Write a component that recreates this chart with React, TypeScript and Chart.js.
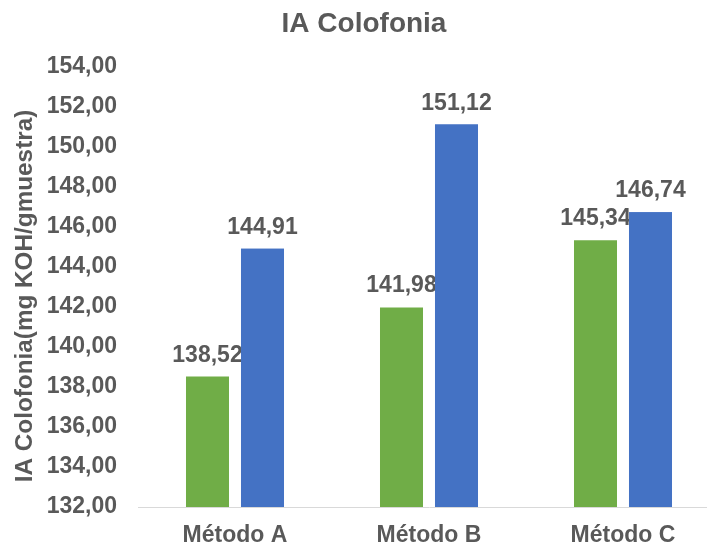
import React, { useEffect, useRef } from "react";
import { Chart, registerables } from "chart.js";

Chart.register(...registerables);

const categories = ["Método A", "Método B", "Método C"];
const greenValues = [138.52, 141.98, 145.34];
const blueValues = [144.91, 151.12, 146.74];
const yMin = 132;
const yMax = 154;
const yStep = 2;
const chartTitle = "IA Colofonia";
const yAxisTitle = "IA Colofonia(mg KOH/gmuestra)";

const FONT = "Arial, 'Liberation Sans', sans-serif";
const TEXT = "#595959";

const fmt = (v: number) => v.toFixed(2).replace(".", ",");

function drawLabels(chart: any, index: number) {
  const ctx = chart.ctx;
  const meta = chart.getDatasetMeta(index);
  const ds = chart.data.datasets[index];
  ctx.save();
  ctx.font = `bold 23px ${FONT}`;
  ctx.fillStyle = TEXT;
  ctx.textAlign = "center";
  ctx.textBaseline = "alphabetic";
  meta.data.forEach((el: any, i: number) => {
    ctx.fillText(fmt(ds.data[i]), el.x, el.y - 15);
  });
  ctx.restore();
}

const labelPlugin = {
  id: "barLabels",
  afterDatasetsDraw(chart: any) {
    const ctx = chart.ctx;
    const area = chart.chartArea;
    drawLabels(chart, 0);
    // redraw blue bars over green labels (as in the reference)
    ctx.save();
    ctx.beginPath();
    ctx.rect(area.left, area.top - 100, area.right - area.left, area.bottom - area.top + 100);
    ctx.clip();
    const blueMeta = chart.getDatasetMeta(1);
    blueMeta.data.forEach((el: any) => el.draw(ctx));
    ctx.restore();
    drawLabels(chart, 1);
  },
  afterDraw(chart: any) {
    const ctx = chart.ctx;
    ctx.save();
    ctx.fillStyle = TEXT;
    ctx.font = `bold 28px ${FONT}`;
    ctx.textAlign = "center";
    ctx.textBaseline = "alphabetic";
    ctx.fillText(chartTitle, 364, 32);
    ctx.translate(32, 296);
    ctx.rotate(-Math.PI / 2);
    ctx.font = `bold 24.3px ${FONT}`;
    ctx.textBaseline = "alphabetic";
    ctx.fillText(yAxisTitle, 0, 0);
    ctx.restore();
  },
};

export default function App() {
  const ref = useRef<HTMLCanvasElement>(null);
  useEffect(() => {
    const canvas = ref.current!;
    const chart = new Chart(canvas, {
      type: "bar",
      data: {
        labels: categories,
        datasets: [
          {
            data: greenValues,
            backgroundColor: "#70AD47",
            borderWidth: 0,
            categoryPercentage: 0.567,
            barPercentage: 0.782,
          },
          {
            data: blueValues,
            backgroundColor: "#4472C4",
            borderWidth: 0,
            categoryPercentage: 0.567,
            barPercentage: 0.782,
          },
        ],
      },
      options: {
        animation: false,
        responsive: false,
        maintainAspectRatio: false,
        layout: { padding: { top: 67, left: 0, right: 0, bottom: 0 } },
        plugins: {
          legend: { display: false },
          tooltip: { enabled: false },
          title: { display: false },
        },
        scales: {
          x: {
            grid: { display: false, drawTicks: false },
            border: { display: true, color: "#D9D9D9", width: 1 },
            ticks: {
              color: TEXT,
              font: { family: FONT, size: 23, weight: "bold" },
              padding: 15,
            },
            afterFit(scale: any) {
              scale.height = 40;
            },
          },
          y: {
            min: yMin,
            max: yMax,
            grid: { display: false, drawTicks: false },
            border: { display: false },
            ticks: {
              stepSize: yStep,
              color: TEXT,
              font: { family: FONT, size: 23, weight: "bold" },
              padding: 21,
              callback: (v: any) => fmt(Number(v)),
            },
            afterFit(scale: any) {
              scale.width = 138;
            },
          },
        },
      },
      plugins: [labelPlugin],
    } as any);
    return () => chart.destroy();
  }, []);
  return (
    <div
      style={{
        position: "fixed",
        left: 0,
        top: 0,
        width: 707,
        height: 547,
        overflow: "hidden",
        background: "#fff",
      }}
    >
      <canvas ref={ref} width={720} height={547} style={{ width: 720, height: 547, display: "block" }} />
    </div>
  );
}
